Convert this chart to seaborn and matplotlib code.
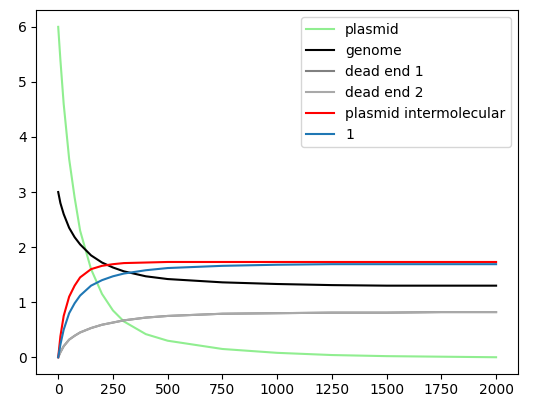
import numpy as np
import matplotlib
matplotlib.use('Agg')
import matplotlib.pyplot as plt
import seaborn as sns

t = [0, 10, 25, 50, 75, 100, 150, 200, 250, 300, 400, 500, 750, 1000, 1250, 1500, 1750, 2000]
plasmid = [6.0, 5.4, 4.6, 3.6, 2.9, 2.3, 1.6, 1.15, 0.85, 0.65, 0.42, 0.3, 0.15, 0.08, 0.04, 0.02, 0.01, 0.0]
genome = [3.0, 2.8, 2.6, 2.35, 2.18, 2.05, 1.85, 1.72, 1.63, 1.56, 1.47, 1.42, 1.36, 1.33, 1.31, 1.30, 1.30, 1.30]
dead_end_1 = [0.0, 0.09, 0.2, 0.32, 0.39, 0.45, 0.53, 0.59, 0.63, 0.67, 0.72, 0.75, 0.79, 0.80, 0.81, 0.81, 0.82, 0.82]
dead_end_2 = dead_end_1
intermolecular = [0.0, 0.38, 0.75, 1.1, 1.3, 1.45, 1.6, 1.66, 1.69, 1.71, 1.72, 1.73, 1.73, 1.73, 1.73, 1.73, 1.73, 1.73]
one = [0.0, 0.23, 0.5, 0.8, 0.98, 1.12, 1.3, 1.4, 1.47, 1.52, 1.58, 1.62, 1.66, 1.68, 1.69, 1.69, 1.69, 1.69]

series = [
    ('plasmid', plasmid, 'lightgreen'),
    ('genome', genome, 'black'),
    ('dead end 1', dead_end_1, 'grey'),
    ('dead end 2', dead_end_2, 'darkgrey'),
    ('plasmid intermolecular', intermolecular, 'red'),
    ('1', one, '#1f77b4'),
]

fig, ax = plt.subplots(figsize=(5.34, 4.13), dpi=100)
fig.subplots_adjust(left=0.068, right=0.97, bottom=0.095, top=0.975)
for name, vals, col in series:
    sns.lineplot(x=t, y=vals, ax=ax, label=name, color=col)
ax.legend(loc='upper right')
plt.savefig('out.png', dpi=100)
